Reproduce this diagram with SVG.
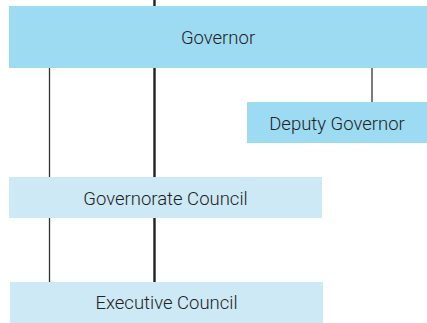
<svg xmlns="http://www.w3.org/2000/svg" width="427" height="323" viewBox="0 0 427 323">
<style>
.main{fill:#9ddbf2}
.light{fill:#cde9f5}
.t{font-family:Roboto,"Liberation Sans",sans-serif;font-size:18.5px;font-weight:300;fill:#222;text-anchor:middle}
.thin{stroke:#333;stroke-width:1.3;fill:none}
.thick{stroke:#222;stroke-width:2.4;fill:none}
</style>
<rect width="427" height="323" fill="#fff"/>
<g id="connectors">
<line class="thick" x1="154.5" y1="0" x2="154.5" y2="282"/>
<line class="thin" x1="49.5" y1="68" x2="49.5" y2="282"/>
<line class="thin" x1="372" y1="68" x2="372" y2="102"/>
</g>
<g id="governor">
<rect class="main" x="9" y="6" width="418" height="62"/>
<text class="t" x="218" y="44">Governor</text>
</g>
<g id="deputy-governor">
<rect class="main" x="247" y="102" width="180" height="41"/>
<text class="t" x="337" y="130">Deputy Governor</text>
</g>
<g id="governorate-council">
<rect class="light" x="9" y="177" width="313" height="41"/>
<text class="t" x="165.5" y="205">Governorate Council</text>
</g>
<g id="executive-council">
<rect class="light" x="10" y="282" width="313" height="41"/>
<text class="t" x="166.5" y="309">Executive Council</text>
</g>
</svg>
